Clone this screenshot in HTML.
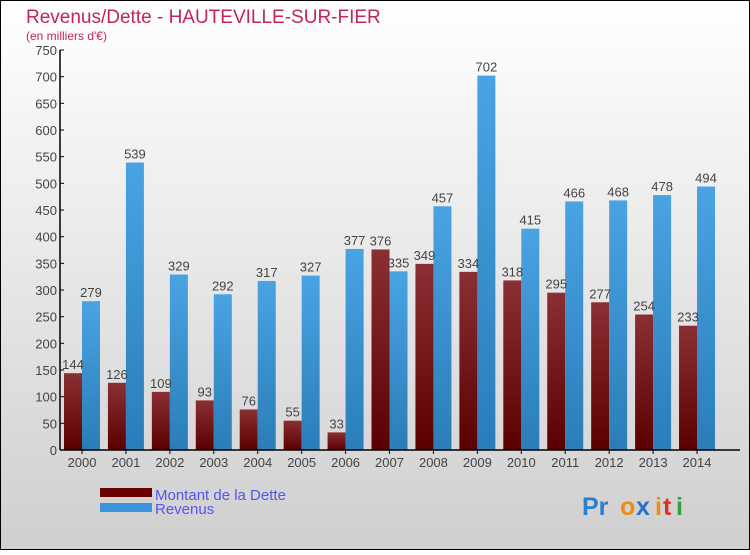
<!DOCTYPE html>
<html><head><meta charset="utf-8"><style>
body{margin:0;width:750px;height:550px;overflow:hidden;font-family:"Liberation Sans",sans-serif}
</style></head><body>
<svg id="c" width="750" height="550" xmlns="http://www.w3.org/2000/svg">
<defs>
<linearGradient id="bg" x1="0" y1="0" x2="0" y2="1"><stop offset="0" stop-color="#ffffff"/><stop offset="1" stop-color="#cfcfcf"/></linearGradient>
<linearGradient id="gd" x1="0" y1="0" x2="0" y2="1"><stop offset="0" stop-color="#8a3034"/><stop offset="1" stop-color="#5a0000"/></linearGradient>
<linearGradient id="gr" x1="0" y1="0" x2="0" y2="1"><stop offset="0" stop-color="#4aa3e2"/><stop offset="1" stop-color="#2a7db8"/></linearGradient>
</defs>
<rect x="0.5" y="0.5" width="749" height="549" fill="url(#bg)" stroke="#000"/>
<text x="26" y="23" font-size="19" fill="#c4245c">Revenus/Dette - HAUTEVILLE-SUR-FIER</text>
<text x="26" y="40" font-size="12" fill="#c4245c">(en milliers d'€)</text>
<g id="plot"></g>
<rect x="100" y="488" width="52" height="9" fill="#6a0000"/>
<rect x="100" y="503" width="52" height="9" fill="#3a95dc"/>
<text x="155" y="500" font-size="15" fill="#5555ee">Montant de la Dette</text>
<text x="155" y="514" font-size="15" fill="#5555ee">Revenus</text>
<g font-size="25" font-weight="bold">
<text x="582" y="515" fill="#2a7fd0">Pr</text><text x="620" y="515" fill="#f08a10">o</text><text x="636" y="515" fill="#2a6fd0">x</text><text x="655" y="515" fill="#f08a10">i</text><text x="663" y="515" fill="#e03020">t</text><text x="676" y="515" fill="#30a040">i</text>
</g>
</svg>
<script>
const years=["2000","2001","2002","2003","2004","2005","2006","2007","2008","2009","2010","2011","2012","2013","2014"];
const dette=[144,126,109,93,76,55,33,376,349,334,318,295,277,254,233];
const revenus=[279,539,329,292,317,327,377,335,457,702,415,466,468,478,494];
const yTicks=[0,50,100,150,200,250,300,350,400,450,500,550,600,650,700,750];
const NS="http://www.w3.org/2000/svg";
const g=document.getElementById('plot');
const y0=450,yMax=750,ph=400,x0=60,step=43.93,bw=18;
const Y=v=>y0-v/yMax*ph;
const X=i=>82+i*step;
function mk(t,a,txt){const e=document.createElementNS(NS,t);for(const k in a)e.setAttribute(k,a[k]);if(txt!==undefined)e.textContent=txt;g.appendChild(e);return e;}
yTicks.forEach(v=>{
  const l=mk('line',{x1:x0,x2:x0+4,y1:Y(v),y2:Y(v),stroke:'#000'});
  
  
  const t=mk('text',{x:x0-3,y:Y(v)+5,'font-size':13,fill:'#444','text-anchor':'end'},v);
  
  
});
years.forEach((yr,i)=>{
  const cx=X(i);
  const d=mk('rect',{x:cx-bw,y:Y(dette[i]),width:bw,height:y0-Y(dette[i]),fill:'url(#gd)'});
  
  
  const r=mk('rect',{x:cx,y:Y(revenus[i]),width:bw,height:y0-Y(revenus[i]),fill:'url(#gr)'});
  
  
  const td=mk('text',{x:cx-bw/2,y:Y(dette[i])-4,'font-size':13,fill:'#444','text-anchor':'middle'},dette[i]);
  
  
  const tr=mk('text',{x:cx+bw/2,y:Y(revenus[i])-4,'font-size':13,fill:'#444','text-anchor':'middle'},revenus[i]);
  
  
  const tk=mk('line',{x1:cx,x2:cx,y1:y0,y2:y0+4,stroke:'#000'});
  
  
  const tx=mk('text',{x:cx,y:y0+17,'font-size':13,fill:'#444','text-anchor':'middle'},yr);
  
  
});
const ax=mk('line',{x1:x0,x2:x0,y1:Y(750),y2:y0,stroke:'#000','stroke-width':1.5});


const bx=mk('line',{x1:x0,x2:740,y1:y0,y2:y0,stroke:'#000','stroke-width':1.5});


</script>
</body></html>
